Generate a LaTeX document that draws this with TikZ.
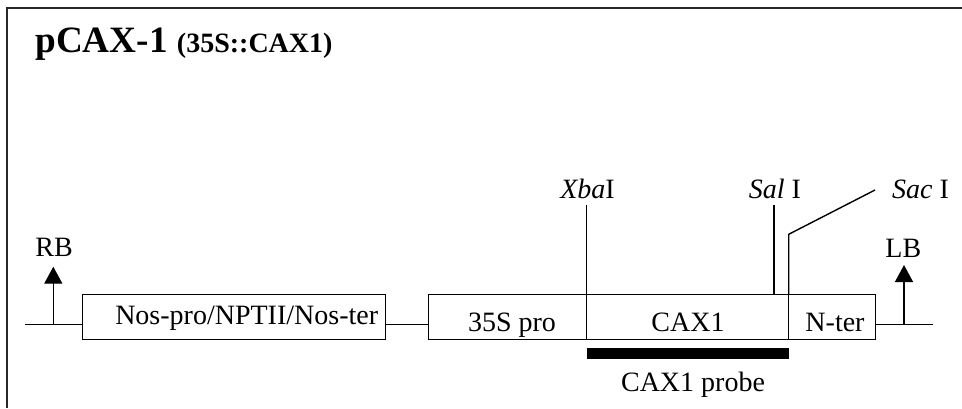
\documentclass[tikz,border=0pt]{standalone}
\usepackage{fontspec}
\setmainfont{Liberation Serif}
\usepackage{tikz}
\usetikzlibrary{calc,positioning,arrows.meta}
\usepackage{xcolor}
\definecolor{framegray}{RGB}{40,40,40}

\begin{document}
\begin{tikzpicture}[x=0.5pt,y=-0.5pt,>=Latex]
  \tikzset{
    box/.style={draw=black,line width=0.7pt,minimum height=22.5pt,inner sep=0pt,outer sep=0pt},
    lbl/.style={font=\fontsize{14}{16}\selectfont,anchor=base,inner sep=0pt},
    dna/.style={draw=black,line width=0.7pt},
    border/.style={draw=framegray,line width=1pt},
    probe/.style={draw=black,line width=5.35pt},
    bd/.style={dna,-{Triangle[width=9pt,length=8.5pt]}},
  }
  \useasboundingbox (0,0) rectangle (962,408);
  \draw[border] (7.3,408) -- (7.3,8.3) -- (962,8.3);

  \node[font=\bfseries\fontsize{18.6}{20}\selectfont,anchor=base west,inner sep=0pt] (title) at (35,52.5)
    {pCAX-1 {\fontsize{14}{16}\selectfont(35S::CAX1)}};

  % T-DNA boxes
  \node[box,minimum width=151.5pt] (nos) at (234.2,316.8) {};
  \node[box,minimum width=79.2pt] (pro) at (507.5,316.8) {};
  \node[box,minimum width=101pt,right=0pt of pro] (cax) {};
  \node[box,minimum width=43.5pt,right=0pt of cax] (nter) {};

  \node[lbl] (nostxt) at (246.7,324.3) {Nos-pro/NPTII/Nos-ter};
  \node[lbl] (protxt) at (512,331.7) {35S pro};
  \node[lbl] (caxtxt) at (688,331.7) {CAX1};
  \node[lbl] (ntertxt) at (835,331.7) {N-ter};

  \coordinate (lend) at (25,324.3); \coordinate (rend) at (933.3,324.3);
  \draw[dna] (lend) -- (lend -| nos.west);
  \draw[dna] (nos.east |- lend) -- (pro.west |- lend);
  \draw[dna] (nter.east |- rend) -- (rend);

  % borders
  \coordinate (rbtip) at (53.3,266.7); \coordinate (lbtip) at (904,265);
  \draw[bd] (rbtip |- lend) -- (rbtip);
  \draw[bd] (lbtip |- rend) -- (lbtip);
  \node[lbl] (rb) at (54,256.7) {RB};
  \node[lbl] (lb) at (903.3,257.7) {LB};

  % restriction sites
  \coordinate (sitetop) at (0,205);
  \coordinate (sal) at (774,205);
  \coordinate (sac) at (875,190);
  \draw[dna] (cax.north west) -- (cax.north west |- sitetop);
  \draw[dna] (sal |- cax.north) -- (sal);
  \draw[dna] (cax.north east) -- ++(0,-60) -- (sac);
  \node[lbl] (xba) at (587.5,198.3) {\textit{Xba}I};
  \node[lbl] (saltxt) at (775,198.3) {\textit{Sal} I};
  \node[lbl,anchor=base west] (sactxt) at (891.7,198.3) {\textit{Sac} I};

  % probe
  \coordinate (pb) at (0,353.7);
  \draw[probe] (cax.west |- pb) -- (cax.east |- pb);
  \node[lbl] (probetxt) at (693,391) {CAX1 probe};
\end{tikzpicture}
\end{document}
